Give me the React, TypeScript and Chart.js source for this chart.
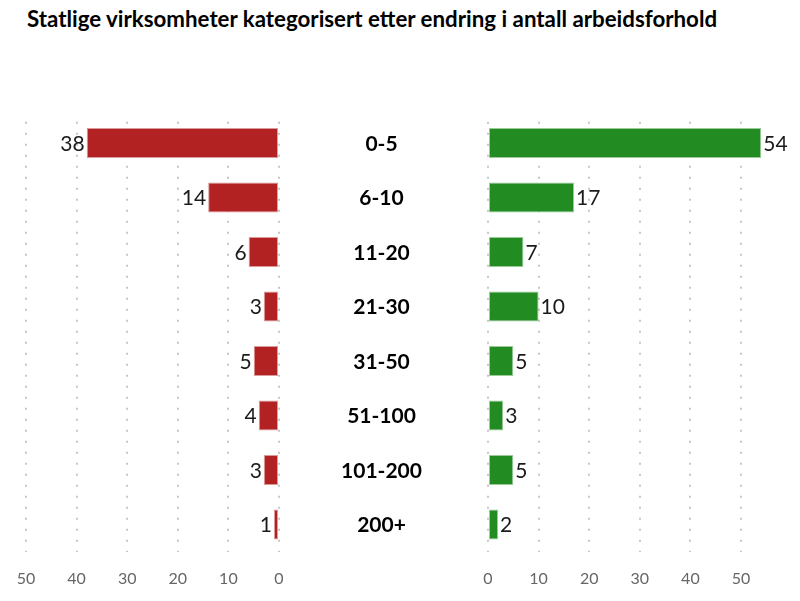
import React, { useEffect, useRef } from "react";
import { Chart, registerables } from "chart.js";

Chart.register(...registerables);

// Size bands of change in number of employment relationships
const categories = ["0-5", "6-10", "11-20", "21-30", "31-50", "51-100", "101-200", "200+"];
// Agencies with a decrease (left, red) and an increase (right, green)
const decreased = [38, 14, 6, 3, 5, 4, 3, 1];
const increased = [54, 17, 7, 10, 5, 3, 5, 2];
const tickValues = [0, 10, 20, 30, 40, 50];

const TITLE = "Statlige virksomheter kategorisert etter endring i antall arbeidsforhold";
const FONT = "Lato, 'Open Sans', sans-serif";

const W = 800;
const H = 601;
const AREA_TOP = 115.7;
const PX_PER_UNIT = 5.06;
const LEFT_START = 26;
const LEFT_END = LEFT_START + 50 * PX_PER_UNIT; // zero of the left axis
const RIGHT_START = 488;
const RIGHT_MAX = 60;

const valueLabels = (side: "left" | "right") => ({
  id: "valueLabels-" + side,
  afterDatasetsDraw(chart: any) {
    const ctx = chart.ctx;
    const meta = chart.getDatasetMeta(0);
    const data = chart.data.datasets[0].data as number[];
    ctx.save();
    ctx.font = `21px ${FONT}`;
    ctx.fillStyle = "#1a1a1a";
    ctx.textBaseline = "middle";
    meta.data.forEach((el: any, i: number) => {
      if (side === "left") {
        ctx.textAlign = "right";
        ctx.fillText(String(data[i]), el.x - 2, el.y + 1);
      } else {
        ctx.textAlign = "left";
        ctx.fillText(String(data[i]), el.x + 2, el.y + 1);
      }
    });
    ctx.restore();
  },
});

// Category names drawn in the middle of the gap held by the left chart's y axis
const categoryLabels = {
  id: "categoryLabels",
  afterDraw(chart: any) {
    const y = chart.scales.y;
    const ctx = chart.ctx;
    ctx.save();
    ctx.font = `bold 21px ${FONT}`;
    ctx.fillStyle = "#000";
    ctx.textAlign = "center";
    ctx.textBaseline = "middle";
    const cx = (y.left + y.right) / 2 - 2;
    categories.forEach((c, i) => {
      ctx.fillText(c, cx, y.getPixelForTick(i) + 1);
    });
    ctx.restore();
  },
};

const xAxis = (reverse: boolean, max: number) => ({
  type: "linear" as const,
  position: "bottom" as const,
  min: 0,
  max,
  reverse,
  afterBuildTicks: (axis: any) => {
    axis.ticks = tickValues.map((v) => ({ value: v }));
  },
  grid: {
    color: "#c6c6c6",
    lineWidth: 2,
    drawTicks: true,
    tickLength: 4,
    tickColor: "#c6c6c6",
    tickBorderDash: [2, 9],
    tickBorderDashOffset: 5,
  },
  border: { display: false, dash: [2, 9], dashOffset: 5 },
  ticks: {
    color: "#666",
    font: { family: FONT, size: 16 },
    padding: 13,
    maxRotation: 0,
    autoSkip: false,
  },
});

export default function App() {
  const leftRef = useRef<HTMLCanvasElement>(null);
  const rightRef = useRef<HTMLCanvasElement>(null);

  useEffect(() => {
    const bottomPad = 0;
    const left = new Chart(leftRef.current!, {
      type: "bar",
      data: {
        labels: categories,
        datasets: [
          {
            data: decreased,
            backgroundColor: "#b22222",
            borderColor: "rgba(178,34,34,0.45)",
            borderWidth: 1,
            borderSkipped: false,
            barPercentage: 0.55,
            categoryPercentage: 1,
          },
        ],
      },
      options: {
        indexAxis: "y",
        responsive: false,
        animation: false,
        devicePixelRatio: 1,
        layout: { padding: { left: LEFT_START, right: W - RIGHT_START, top: AREA_TOP, bottom: bottomPad } },
        plugins: { legend: { display: false }, tooltip: { enabled: false }, title: { display: false } },
        scales: {
          x: xAxis(true, 50),
          y: {
            position: "right",
            grid: { display: false },
            border: { display: false },
            ticks: { display: false },
            afterFit: (s: any) => {
              s.width = RIGHT_START - LEFT_END;
            },
          },
        },
      },
      plugins: [valueLabels("left"), categoryLabels],
    });

    const right = new Chart(rightRef.current!, {
      type: "bar",
      data: {
        labels: categories,
        datasets: [
          {
            data: increased,
            backgroundColor: "#228b22",
            borderColor: "rgba(34,139,34,0.45)",
            borderWidth: 1,
            borderSkipped: false,
            barPercentage: 0.55,
            categoryPercentage: 1,
          },
        ],
      },
      options: {
        indexAxis: "y",
        responsive: false,
        animation: false,
        devicePixelRatio: 1,
        layout: {
          padding: {
            left: RIGHT_START,
            right: W - (RIGHT_START + RIGHT_MAX * PX_PER_UNIT),
            top: AREA_TOP,
            bottom: bottomPad,
          },
        },
        plugins: { legend: { display: false }, tooltip: { enabled: false }, title: { display: false } },
        scales: {
          x: xAxis(false, RIGHT_MAX),
          y: { display: false },
        },
      },
      plugins: [valueLabels("right")],
    });

    return () => {
      left.destroy();
      right.destroy();
    };
  }, []);

  return (
    <div style={{ position: "absolute", left: 0, top: 0, width: W, height: H, background: "#fff" }}>
      <div
        style={{
          position: "absolute",
          left: 27,
          top: 8,
          fontFamily: FONT,
          fontWeight: 700,
          fontSize: 22.3,
          lineHeight: "22px",
          color: "#000",
          whiteSpace: "nowrap",
        }}
      >
        {TITLE}
      </div>
      <canvas ref={leftRef} width={W} height={H} style={{ position: "absolute", left: 0, top: 0 }} />
      <canvas ref={rightRef} width={W} height={H} style={{ position: "absolute", left: 0, top: 0 }} />
    </div>
  );
}
